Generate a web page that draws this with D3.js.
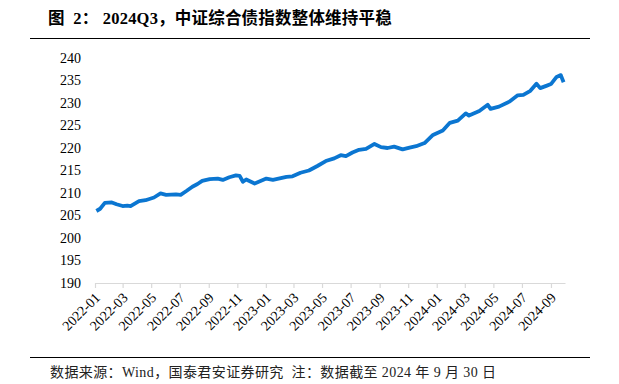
<!DOCTYPE html>
<html>
<head>
<meta charset="utf-8">
<script src="https://cdn.jsdelivr.net/npm/d3@7"></script>
<style>
  body { margin: 0; background: #fff; }
  svg { display: block; }
</style>
</head>
<body>
<script>
// 中证综合债指数
var dates = ["2022-01-04","2022-01-12","2022-01-22","2022-02-06","2022-02-16","2022-03-01","2022-03-11","2022-03-18",
  "2022-04-05","2022-04-19","2022-05-07","2022-05-21","2022-06-02","2022-06-23","2022-07-03","2022-07-16",
  "2022-07-28","2022-08-08","2022-08-18","2022-09-03","2022-09-20","2022-10-01","2022-10-15","2022-10-29",
  "2022-11-06","2022-11-13","2022-11-20","2022-12-08","2023-01-02","2023-01-16","2023-02-14","2023-02-27",
  "2023-03-16","2023-04-03","2023-04-21","2023-05-09","2023-05-27","2023-06-10","2023-06-21","2023-07-05",
  "2023-07-19","2023-08-03","2023-08-21","2023-09-04","2023-09-18","2023-10-02","2023-10-20","2023-11-04",
  "2023-11-18","2023-12-06","2023-12-24","2024-01-14","2024-01-29","2024-02-15","2024-03-03","2024-03-10",
  "2024-04-01","2024-04-19","2024-04-25","2024-05-13","2024-06-04","2024-06-22","2024-07-04","2024-07-19",
  "2024-08-01","2024-08-09","2024-08-22","2024-09-01","2024-09-13","2024-09-22","2024-09-28"];
var values = [206.0,206.5,207.8,207.9,207.5,207.1,207.2,207.1,
  208.2,208.4,209.0,209.9,209.6,209.7,209.6,210.5,
  211.4,212.0,212.7,213.1,213.2,212.9,213.5,213.9,
  213.8,212.5,213.0,212.1,213.2,212.9,213.6,213.7,
  214.5,215.0,216.0,217.1,217.7,218.4,218.2,219.0,
  219.6,219.8,220.9,220.2,220.0,220.3,219.7,220.1,
  220.4,221.1,222.9,223.9,225.6,226.1,227.7,227.2,
  228.2,229.6,228.7,229.2,230.3,231.7,231.8,232.7,
  234.3,233.3,233.8,234.2,235.8,236.2,234.6];
var yTicks = [190,195,200,205,210,215,220,225,230,235,240];

var titleText = "图 2：2024Q3，中证综合债指数整体维持平稳";
var sourceText = "数据来源：Wind，国泰君安证券研究  注：数据截至 2024 年 9 月 30 日";

var W = 619, H = 384;
var parse = d3.timeParse("%Y-%m-%d");
var data = dates.map(function(d, i){ return { date: parse(d), value: values[i] }; });

var svg = d3.select("body").append("svg")
  .attr("width", W)
  .attr("height", H);

var fontSerif = "'Liberation Serif','Times New Roman','Noto Sans CJK SC',serif";
var fontCJK = "'Liberation Serif','Noto Sans CJK SC',serif";

// title + rule
svg.append("text")
  .attr("x", 48)
  .attr("y", 24)
  .attr("font-family", fontCJK)
  .attr("font-weight", "bold")
  .attr("font-size", "16.5px")
  .attr("letter-spacing", "0.2px")
  .attr("fill", "#000")
  .attr("xml:space", "preserve")
  .style("white-space", "pre")
  .text(titleText.replace("图 2：", "图  2： "));

svg.append("line")
  .attr("x1", 30).attr("x2", 590)
  .attr("y1", 38.5).attr("y2", 38.5)
  .attr("stroke", "#000")
  .attr("stroke-width", 1);

var x = d3.scaleTime()
  .domain([parse("2022-01-01"), parse("2024-10-01")])
  .range([95, 565]);

var y = d3.scaleLinear()
  .domain([190, 240])
  .range([283, 58]);

// y labels (no axis line)
var yAxis = svg.append("g");
yAxis.selectAll("text")
  .data(yTicks)
  .enter()
  .append("text")
  .attr("x", 81)
  .attr("y", function(d){ return y(d); })
  .attr("dy", "0.35em")
  .attr("text-anchor", "end")
  .attr("font-family", fontSerif)
  .attr("font-size", "14px")
  .attr("fill", "#000")
  .text(function(d){ return d; });

// x axis
var xAxis = svg.append("g")
  .attr("transform", "translate(0," + y(190) + ")")
  .call(d3.axisBottom(x)
    .ticks(d3.timeMonth.every(2))
    .tickSize(5)
    .tickSizeOuter(0)
    .tickFormat(d3.timeFormat("%Y-%m")));

xAxis.select(".domain")
  .attr("stroke", "#d9d9d9")
  .attr("stroke-width", 1.2);
xAxis.selectAll(".tick line")
  .attr("stroke", "#d9d9d9")
  .attr("stroke-width", 1.2);
xAxis.selectAll(".tick text")
  .attr("font-family", fontSerif)
  .attr("font-size", "14px")
  .attr("fill", "#000")
  .attr("text-anchor", "end")
  .attr("dy", "0.35em")
  .attr("transform", "translate(2,12) rotate(-45)")
  .attr("y", 0)
  .attr("x", 0);

// line
var line = d3.line()
  .x(function(d){ return x(d.date); })
  .y(function(d){ return y(d.value); });

svg.append("path")
  .datum(data)
  .attr("fill", "none")
  .attr("stroke", "#0b76d1")
  .attr("stroke-width", 3.8)
  .attr("stroke-linejoin", "round")
  .attr("d", line);

// footer
svg.append("line")
  .attr("x1", 30).attr("x2", 590)
  .attr("y1", 357.5).attr("y2", 357.5)
  .attr("stroke", "#000")
  .attr("stroke-width", 1);

svg.append("text")
  .attr("x", 50)
  .attr("y", 377)
  .attr("font-family", fontCJK)
  .attr("font-size", "14px")
  .attr("letter-spacing", "0.4px")
  .attr("fill", "#222")
  .attr("xml:space", "preserve")
  .style("white-space", "pre")
  .text(sourceText);
</script>
</body>
</html>
